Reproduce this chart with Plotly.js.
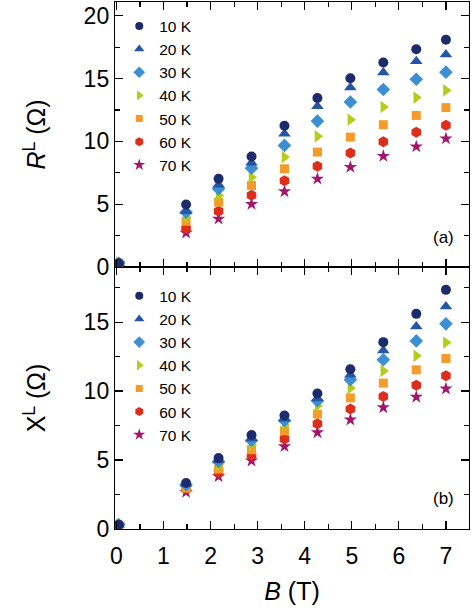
<!DOCTYPE html>
<html>
<head>
<meta charset="utf-8">
<script src="https://cdn.plot.ly/plotly-3.0.1.min.js"></script>
<style>html,body{margin:0;padding:0;background:#fff;}#chart{width:472px;height:614px;}</style>
</head>
<body>
<div id="chart"></div>
<script>
// Magnetic field B (T)
const B = [0.05, 1.48, 2.17, 2.87, 3.57, 4.27, 4.97, 5.67, 6.37, 7.0];
const temps = ["10 K", "20 K", "30 K", "40 K", "50 K", "60 K", "70 K"];

// Panel (a): R^L (Ohm)
const R10 = [0.3, 4.97, 7.02, 8.80, 11.25, 13.46, 15.03, 16.28, 17.34, 18.09];
const R20 = [0.3, 4.44, 6.54, 8.30, 10.61, 12.79, 14.29, 15.48, 16.38, 16.92];
const R30 = [0.3, 4.36, 6.22, 7.87, 9.68, 11.62, 13.14, 14.13, 14.95, 15.51];
const R40 = [0.3, 3.96, 5.69, 7.15, 8.75, 10.40, 11.73, 12.74, 13.49, 14.07];
const R50 = [0.3, 3.64, 5.16, 6.49, 7.82, 9.15, 10.34, 11.33, 12.07, 12.69];
const R60 = [0.3, 3.06, 4.44, 5.71, 6.86, 8.03, 9.07, 9.98, 10.72, 11.28];
const R70 = [0.3, 2.71, 3.83, 5.00, 6.01, 7.02, 7.95, 8.83, 9.58, 10.22];

// Panel (b): X^L (Ohm)
const X10 = [0.3, 3.33, 5.14, 6.81, 8.23, 9.83, 11.59, 13.55, 15.60, 17.34];
const X20 = [0.3, 3.28, 4.97, 6.57, 7.99, 9.46, 11.18, 12.94, 14.68, 16.13];
const X30 = [0.3, 3.21, 4.90, 6.42, 7.87, 9.30, 10.82, 12.27, 13.64, 14.88];
const X40 = [0.3, 3.14, 4.66, 6.11, 7.56, 8.93, 10.22, 11.47, 12.56, 13.52];
const X50 = [0.3, 2.97, 4.35, 5.75, 7.12, 8.33, 9.51, 10.58, 11.54, 12.36];
const X60 = [0.3, 2.90, 4.10, 5.33, 6.52, 7.63, 8.70, 9.61, 10.43, 11.11];
const X70 = [0.3, 2.68, 3.81, 4.95, 5.99, 7.00, 7.92, 8.81, 9.57, 10.17];

const Rdata = [R10, R20, R30, R40, R50, R60, R70];
const Xdata = [X10, X20, X30, X40, X50, X60, X70];

const colors = ["#1c2b6b", "#2456a5", "#3b8fd2", "#b5cc18", "#f59b2a", "#dc2e1a", "#a0186c"];
const symbols = ["circle", "triangle-up", "diamond", "triangle-right", "square", "hexagon", "star"];
const sizes = [10, 11, 10.5, 11, 9, 11, 10];
const legendSizes = [8, 9, 9, 9, 7, 9, 9];

const traces = [];
// data marks (drawn with 10 K on top)
for (let i = temps.length - 1; i >= 0; i--) {
  const mk = {color: colors[i], symbol: symbols[i], size: sizes[i], line: {width: 0}};
  traces.push({x: B, y: Rdata[i], xaxis: "x2", yaxis: "y2", mode: "markers", type: "scatter",
    name: temps[i], marker: mk, showlegend: false});
  traces.push({x: B, y: Xdata[i], xaxis: "x", yaxis: "y", mode: "markers", type: "scatter",
    name: temps[i], marker: mk, showlegend: false});
}
// legend entries (smaller symbols, as in the figure)
for (let i = 0; i < temps.length; i++) {
  const mk = {color: colors[i], symbol: symbols[i], size: legendSizes[i], line: {width: 0}};
  traces.push({x: [null], y: [null], xaxis: "x2", yaxis: "y2", mode: "markers", type: "scatter",
    name: temps[i], marker: mk, legend: "legend", hoverinfo: "skip"});
  traces.push({x: [null], y: [null], xaxis: "x", yaxis: "y", mode: "markers", type: "scatter",
    name: temps[i], marker: mk, legend: "legend2", hoverinfo: "skip"});
}

const font = {family: "Liberation Sans, Arial, sans-serif", color: "#000"};
const axBase = {
  showgrid: false, zeroline: false, showline: true, linecolor: "#000", linewidth: 1.2,
  mirror: "ticks", ticks: "inside", ticklen: 8, tickwidth: 1.2, tickcolor: "#000",
  tickfont: {family: font.family, size: 23, color: "#000"}
};
const minorTicks = (d) => ({dtick: d, ticklen: 5, tickwidth: 1.2, tickcolor: "#000", ticks: "inside"});
const split = 0.4972;

const layout = {
  width: 472, height: 614,
  margin: {l: 115, r: 3, t: 2, b: 85},
  paper_bgcolor: "#fff", plot_bgcolor: "#fff",
  font: font,
  showlegend: true,
  xaxis: Object.assign({}, axBase, {
    anchor: "y", domain: [0, 1], range: [-0.03, 7.49], dtick: 1, tick0: 0, ticklabelstandoff: 6,
    minor: minorTicks(0.5),
    title: {text: "<i>B</i> (T)", font: {family: font.family, size: 25, color: "#000"}, standoff: 14}
  }),
  xaxis2: Object.assign({}, axBase, {
    anchor: "y2", domain: [0, 1], range: [-0.03, 7.49], dtick: 1, tick0: 0, showticklabels: false,
    minor: minorTicks(0.5)
  }),
  yaxis: Object.assign({}, axBase, {
    anchor: "x", domain: [0, split], range: [0, 19.0], dtick: 5, tick0: 0,
    minor: minorTicks(2.5),
    title: {text: "X<sup>L</sup> (Ω)", font: {family: font.family, size: 25, color: "#000"}, standoff: 30}
  }),
  yaxis2: Object.assign({}, axBase, {
    anchor: "x2", domain: [split, 1], range: [0, 21.1], dtick: 5, tick0: 0,
    minor: minorTicks(2.5),
    title: {text: "<i>R</i><sup>L</sup> (Ω)", font: {family: font.family, size: 25, color: "#000"}, standoff: 30}
  }),
  legend: {x: 0.012, y: 0.986, xanchor: "left", yanchor: "top",
    bgcolor: "rgba(0,0,0,0)", font: {family: font.family, size: 15.5, color: "#000"}, tracegroupgap: 0},
  legend2: {x: 0.012, y: 0.474, xanchor: "left", yanchor: "top",
    bgcolor: "rgba(0,0,0,0)", font: {family: font.family, size: 15.5, color: "#000"}, tracegroupgap: 0},
  annotations: [
    {text: "(a)", xref: "x2 domain", yref: "y2 domain", x: 0.927, y: 0.113, showarrow: false,
      xanchor: "center", yanchor: "middle", font: {family: font.family, size: 17, color: "#000"}},
    {text: "(b)", xref: "x domain", yref: "y domain", x: 0.927, y: 0.118, showarrow: false,
      xanchor: "center", yanchor: "middle", font: {family: font.family, size: 17, color: "#000"}}
  ]
};

Plotly.newPlot("chart", traces, layout, {displayModeBar: false, staticPlot: true});
</script>
</body>
</html>
